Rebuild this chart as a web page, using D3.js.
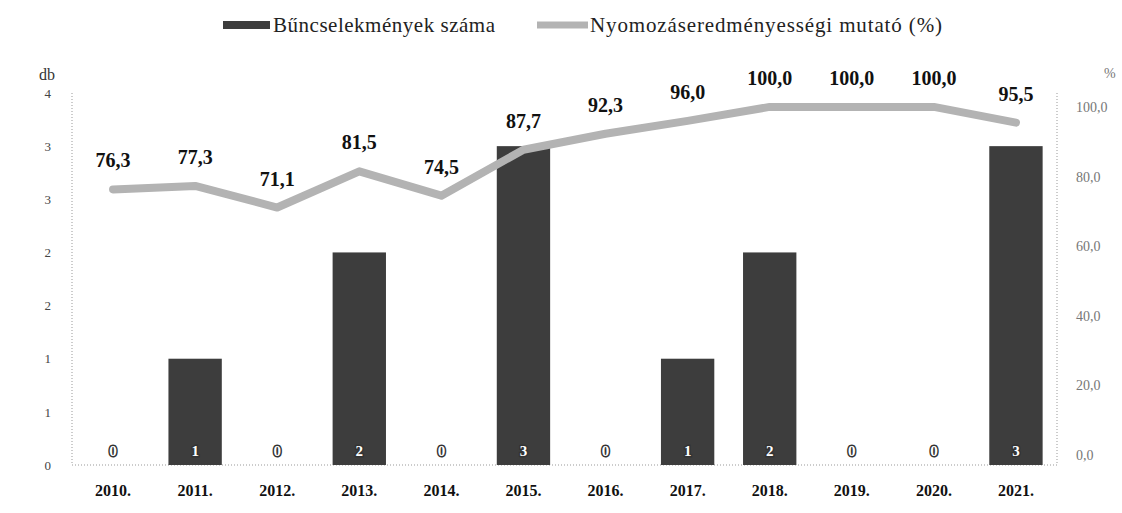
<!DOCTYPE html>
<html><head><meta charset="utf-8">
<script src="https://cdn.jsdelivr.net/npm/d3@7"></script>
<style>body{margin:0;background:#fff}svg{display:block}</style>
</head><body>
<svg id="chart" width="1122" height="513"></svg>
<script>
const years = ["2010.","2011.","2012.","2013.","2014.","2015.","2016.","2017.","2018.","2019.","2020.","2021."];
const crimes = [0,1,0,2,0,3,0,1,2,0,0,3];
const rate = [76.3,77.3,71.1,81.5,74.5,87.7,92.3,96.0,100.0,100.0,100.0,95.5];
const leftTicks = [0,0.5,1,1.5,2,2.5,3,3.5];
const rightTicks = [0,20,40,60,80,100];
const legendLabels = ["Bűncselekmények száma","Nyomozáseredményességi mutató (%)"];

const svg = d3.select("#chart");
const m = {left:72, right:1057, top:93, bottom:465};
const x = d3.scaleBand().domain(years).range([m.left,m.right]).paddingInner(0.35).paddingOuter(0.175);
const yL = d3.scaleLinear().domain([0,3.5]).range([m.bottom,m.top]);
const yR = d3.scaleLinear().domain([0,104]).range([455,m.top]);
const serif = "Liberation Serif, DejaVu Serif, serif";
const comma = v => d3.format(".1f")(v).replace(".",",");
const roundHalfUp = v => Math.floor(v+0.5);

// frame lines (dotted)
const frame = svg.append("g").attr("stroke","#999").attr("stroke-width",1).attr("stroke-dasharray","1,2");
frame.append("line").attr("x1",m.left).attr("x2",m.left).attr("y1",m.top).attr("y2",m.bottom);
frame.append("line").attr("x1",m.right).attr("x2",m.right).attr("y1",m.top).attr("y2",m.bottom);
frame.append("line").attr("x1",m.left).attr("x2",m.right).attr("y1",m.bottom).attr("y2",m.bottom);

// left axis
const axL = svg.append("g").attr("transform",`translate(${m.left-18},0)`)
  .call(d3.axisLeft(yL).tickValues(leftTicks).tickSize(0).tickFormat(d=>String(roundHalfUp(d))));
axL.attr("font-family",serif);
axL.select(".domain").remove();
axL.selectAll("text").attr("font-size",13).attr("fill","#444");

// right axis
const axR = svg.append("g").attr("transform",`translate(${m.right+16},0)`)
  .call(d3.axisRight(yR).tickValues(rightTicks).tickSize(0).tickFormat(comma));
axR.attr("font-family",serif);
axR.select(".domain").remove();
axR.selectAll("text").attr("font-size",14).attr("fill","#777");

// x axis
const axX = svg.append("g").attr("transform",`translate(0,${m.bottom+17})`)
  .call(d3.axisBottom(x).tickSize(0));
axX.attr("font-family",serif);
axX.select(".domain").remove();
axX.selectAll("text").attr("font-size",16).attr("font-weight","bold").attr("fill","#111");

// bars
svg.append("g").selectAll("rect").data(years).join("rect")
  .attr("x",d=>x(d)).attr("width",x.bandwidth())
  .attr("y",(d,i)=>yL(crimes[i])).attr("height",(d,i)=>yL(0)-yL(crimes[i]))
  .attr("fill","#3d3d3d");

// bar labels
svg.append("g").selectAll("text").data(years).join("text")
  .attr("x",d=>x(d)+x.bandwidth()/2).attr("y",m.bottom-9)
  .attr("text-anchor","middle").attr("font-family",serif).attr("font-weight","bold").attr("font-size",15)
  .attr("fill","#fff").attr("stroke","#333").attr("stroke-width",3).attr("paint-order","stroke")
  .text((d,i)=>crimes[i]);

// line
const line = d3.line().x((d,i)=>x(years[i])+x.bandwidth()/2).y(d=>yR(d));
svg.append("path").datum(rate).attr("d",line).attr("fill","none")
  .attr("stroke","#b3b3b3").attr("stroke-width",8).attr("stroke-linejoin","round").attr("stroke-linecap","round");

// line labels
svg.append("g").selectAll("text").data(rate).join("text")
  .attr("x",(d,i)=>x(years[i])+x.bandwidth()/2).attr("y",d=>yR(d)-22)
  .attr("text-anchor","middle").attr("font-family",serif).attr("font-weight","bold").attr("font-size",20)
  .attr("fill","#111").text(comma);

// axis titles
svg.append("text").attr("x",39).attr("y",80).attr("font-family",serif).attr("font-size",16).attr("fill","#333").text("db");
svg.append("text").attr("x",1104).attr("y",78).attr("font-family",serif).attr("font-size",14).attr("fill","#777").text("%");

// legend
const lg = svg.append("g").attr("font-family",serif).attr("font-size",21).attr("fill","#222");
lg.append("rect").attr("x",223).attr("y",21).attr("width",47).attr("height",8).attr("fill","#3d3d3d");
lg.append("text").attr("x",273).attr("y",32).attr("textLength",222).attr("lengthAdjust","spacing").text(legendLabels[0]);
lg.append("line").attr("x1",537).attr("x2",588).attr("y1",25).attr("y2",25).attr("stroke","#b3b3b3").attr("stroke-width",7);
lg.append("text").attr("x",590).attr("y",32).attr("textLength",352).attr("lengthAdjust","spacing").text(legendLabels[1]);
</script>
</body></html>
